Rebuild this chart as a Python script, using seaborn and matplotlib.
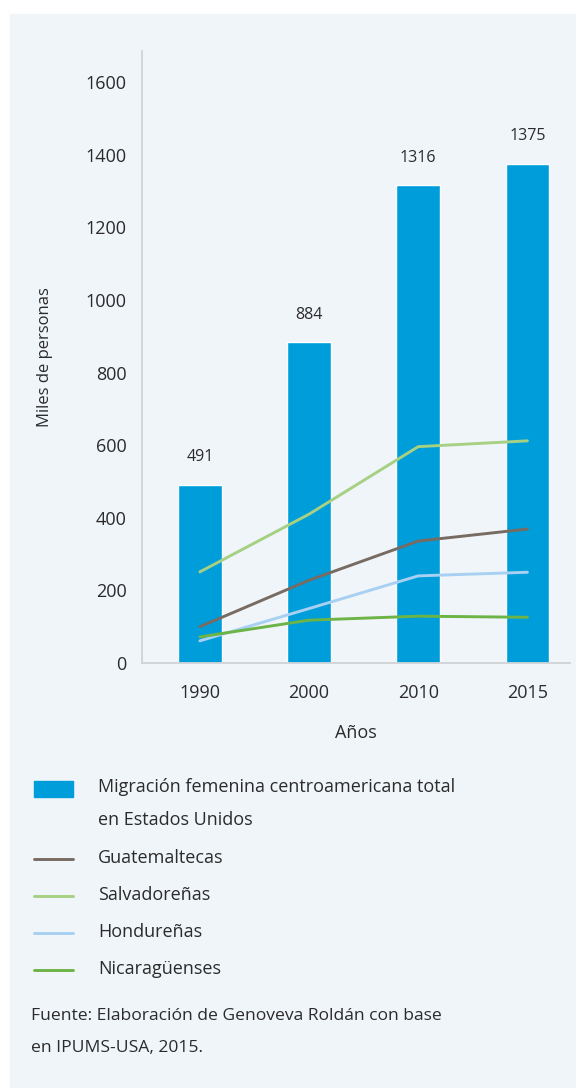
import matplotlib
matplotlib.use('Agg')
import matplotlib.pyplot as plt
import pandas as pd
import seaborn as sns
from matplotlib.patches import Rectangle
from matplotlib.lines import Line2D

# Data (miles de personas)
years = ['1990', '2000', '2010', '2015']
total = [491, 884, 1316, 1375]
guatemaltecas = [100, 228, 336, 369]
salvadorenas = [251, 410, 596, 612]
hondurenas = [61, 150, 240, 250]
nicaraguenses = [72, 118, 129, 126]

series_names = ['Guatemaltecas', 'Salvadoreñas', 'Hondureñas', 'Nicaragüenses']
colors = {
    'Guatemaltecas': '#776b62',
    'Salvadoreñas': '#a6d082',
    'Hondureñas': '#a8d0f2',
    'Nicaragüenses': '#6db446',
}
bar_color = '#009ddb'
panel_color = '#f0f5fa'
text_color = '#2b2b2b'

df_bar = pd.DataFrame({'Años': years, 'total': total})
df_lines = pd.DataFrame({
    'Años': years * 4,
    'valor': guatemaltecas + salvadorenas + hondurenas + nicaraguenses,
    'grupo': [n for n in series_names for _ in years],
})

sns.set_style('white')
plt.rcParams['font.family'] = ['Open Sans', 'DejaVu Sans']
plt.rcParams['text.color'] = text_color

W, H = 576, 1088
fig = plt.figure(figsize=(W / 100, H / 100), dpi=100, facecolor='white')


def fx(x):
    return x / W


def fy(y):
    return 1 - y / H


# background panel
fig.patches.append(Rectangle((fx(10), 0), fx(566), 1 - 14 / H,
                             transform=fig.transFigure, color=panel_color, zorder=-10))

ax = fig.add_axes([fx(142), fy(663), fx(570) - fx(142), fy(51) - fy(663)])
ax.set_facecolor('none')

sns.barplot(data=df_bar, x='Años', y='total', color=bar_color, width=0.4,
            saturation=1, ax=ax)
ax.bar_label(ax.containers[0], padding=14, fontsize=11.5, color=text_color)

sns.lineplot(data=df_lines, x='Años', y='valor', hue='grupo', palette=colors,
             linewidth=2.1, legend=False, ax=ax)

ax.set_xlim(-0.53, 3.39)
ax.set_ylim(0, 1686)
ax.set_yticks(range(0, 1601, 200))
ax.tick_params(axis='both', length=0, labelsize=13, colors=text_color)
ax.tick_params(axis='y', pad=11)
ax.tick_params(axis='x', pad=15)

for s in ['top', 'right']:
    ax.spines[s].set_visible(False)
for s in ['left', 'bottom']:
    ax.spines[s].set_color('#cfd3d8')
    ax.spines[s].set_linewidth(1.3)

ax.set_ylabel('Miles de personas', fontsize=12, color=text_color)
ax.set_xlabel('Años', fontsize=13, color=text_color)
ax.yaxis.set_label_coords(-0.207, 0.5)
ax.xaxis.set_label_coords(0.5, -0.1)

# legend drawn by hand
fig.patches.append(Rectangle((fx(34), fy(797)), fx(39), fy(781) - fy(797),
                             transform=fig.transFigure, color=bar_color))
fig.text(fx(98), fy(787), 'Migración femenina centroamericana total',
         fontsize=13, va='center')
fig.text(fx(98), fy(820), 'en Estados Unidos', fontsize=13, va='center')
for i, name in enumerate(series_names):
    yy = 858 + 37 * i
    fig.add_artist(Line2D([fx(34), fx(73)], [fy(yy + 1), fy(yy + 1)],
                          color=colors[name], linewidth=2.1,
                          transform=fig.transFigure))
    fig.text(fx(98), fy(yy), name, fontsize=13, va='center')

fig.text(fx(31), fy(1016), 'Fuente: Elaboración de Genoveva Roldán con base',
         fontsize=12.6, va='center')
fig.text(fx(31), fy(1048), 'en IPUMS-USA, 2015.', fontsize=12.6, va='center')

fig.savefig('out.png', dpi=100, facecolor='white')
